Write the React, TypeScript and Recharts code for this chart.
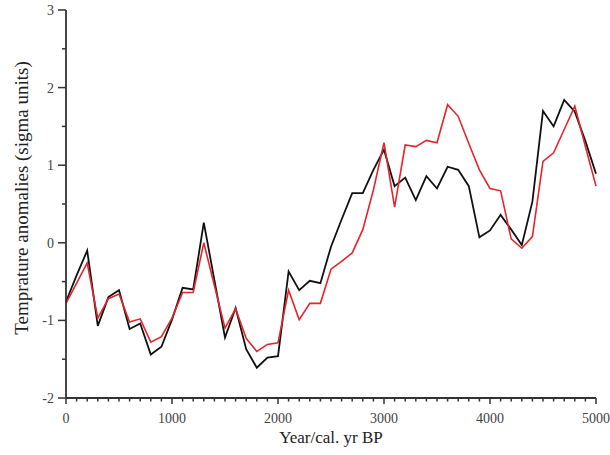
import React from 'react';
import { LineChart, Line, XAxis, YAxis } from 'recharts';

const years = [0, 100, 200, 300, 400, 500, 600, 700, 800, 900, 1000, 1100, 1200, 1300, 1400, 1500, 1600, 1700, 1800, 1900, 2000, 2100, 2200, 2300, 2400, 2500, 2600, 2700, 2800, 2900, 3000, 3100, 3200, 3300, 3400, 3500, 3600, 3700, 3800, 3900, 4000, 4100, 4200, 4300, 4400, 4500, 4600, 4700, 4800, 4900, 5000];

const blackSeries = [-0.76, -0.42, -0.10, -1.07, -0.70, -0.61, -1.11, -1.04, -1.44, -1.34, -0.99, -0.58, -0.60, 0.26, -0.48, -1.22, -0.84, -1.37, -1.61, -1.48, -1.46, -0.37, -0.61, -0.49, -0.52, -0.05, 0.30, 0.64, 0.64, 0.94, 1.20, 0.73, 0.84, 0.55, 0.86, 0.70, 0.98, 0.94, 0.73, 0.07, 0.16, 0.36, 0.17, -0.03, 0.53, 1.70, 1.50, 1.84, 1.69, 1.31, 0.89];

const redSeries = [-0.78, -0.52, -0.26, -0.97, -0.72, -0.66, -1.02, -0.98, -1.28, -1.21, -0.97, -0.64, -0.64, 0.00, -0.55, -1.10, -0.85, -1.23, -1.40, -1.31, -1.29, -0.61, -0.99, -0.78, -0.78, -0.34, -0.24, -0.13, 0.17, 0.68, 1.29, 0.46, 1.26, 1.24, 1.32, 1.29, 1.78, 1.63, 1.28, 0.94, 0.70, 0.67, 0.05, -0.07, 0.08, 1.05, 1.16, 1.46, 1.76, 1.24, 0.73];

const xTicks = [0, 100, 200, 300, 400, 500, 600, 700, 800, 900, 1000, 1100, 1200, 1300, 1400, 1500, 1600, 1700, 1800, 1900, 2000, 2100, 2200, 2300, 2400, 2500, 2600, 2700, 2800, 2900, 3000, 3100, 3200, 3300, 3400, 3500, 3600, 3700, 3800, 3900, 4000, 4100, 4200, 4300, 4400, 4500, 4600, 4700, 4800, 4900, 5000];
const yTicks = [-2, -1.5, -1, -0.5, 0, 0.5, 1, 1.5, 2, 2.5, 3];

const data = years.map((y, i) => ({ year: y, black: blackSeries[i], red: redSeries[i] }));

const FONT = '"Liberation Serif", "Times New Roman", serif';
const AXIS = '#333';

const XTick = (props: any) => {
  const { x, y, payload } = props;
  const v = payload.value;
  const major = v % 1000 === 0;
  return (
    <g>
      <line x1={x} x2={x} y1={y} y2={y + (major ? 6 : 3.5)} stroke={AXIS} strokeWidth={1.5} />
      {major && (
        <text x={x} y={y + 25} textAnchor="middle" fontFamily={FONT} fontSize={14} fill="#444">
          {v}
        </text>
      )}
    </g>
  );
};

const YTick = (props: any) => {
  const { x, y, payload } = props;
  const v = payload.value;
  const major = Number.isInteger(v);
  return (
    <g>
      <line x1={x - (major ? 8 : 4)} x2={x} y1={y} y2={y} stroke={AXIS} strokeWidth={1.5} />
      {major && (
        <text x={x - 12} y={y + 5} textAnchor="end" fontFamily={FONT} fontSize={14} fill="#444">
          {v}
        </text>
      )}
    </g>
  );
};

const XLabel = (props: any) => {
  const vb = props.viewBox || {};
  return (
    <text x={vb.x + vb.width / 2} y={vb.y + 45} textAnchor="middle" fontFamily={FONT} fontSize={17} fill="#222">
      Year/cal. yr BP
    </text>
  );
};

const YLabel = (props: any) => {
  const vb = props.viewBox || {};
  const cx = 21;
  const cy = vb.y + vb.height / 2 - 6;
  return (
    <text x={cx} y={cy} transform={`rotate(-90 ${cx} ${cy})`} textAnchor="middle" dominantBaseline="central" fontFamily={FONT} fontSize={19} fill="#222">
      Temprature anomalies (sigma units)
    </text>
  );
};

export default function App() {
  return (
    <div style={{ position: 'absolute', left: 0, top: 0, background: '#fff' }}>
      <LineChart width={610} height={455} data={data} margin={{ top: 10, right: 14, bottom: 0, left: 0 }}>
        <XAxis
          dataKey="year"
          type="number"
          domain={[0, 5000]}
          ticks={xTicks}
          interval={0}
          tickLine={false}
          tickSize={0}
          tickMargin={0}
          axisLine={{ stroke: AXIS, strokeWidth: 1.8 }}
          tick={<XTick />}
          height={57}
          label={<XLabel />}
        />
        <YAxis
          type="number"
          domain={[-2, 3]}
          ticks={yTicks}
          interval={0}
          tickLine={false}
          tickSize={0}
          tickMargin={0}
          axisLine={{ stroke: AXIS, strokeWidth: 1.8 }}
          tick={<YTick />}
          width={66}
          label={<YLabel />}
        />
        <Line type="linear" dataKey="black" stroke="#111" strokeWidth={1.8} dot={false} isAnimationActive={false} />
        <Line type="linear" dataKey="red" stroke="#e3262b" strokeWidth={1.6} dot={false} isAnimationActive={false} />
      </LineChart>
    </div>
  );
}
